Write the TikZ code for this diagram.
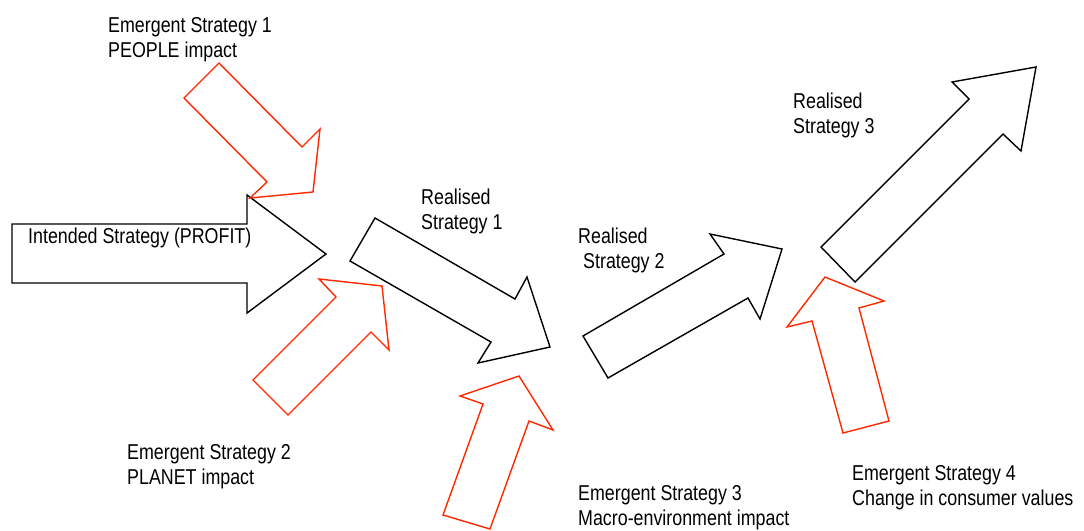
\documentclass[tikz,border=0pt]{standalone}
\usepackage{fontspec}
\setmainfont[FakeStretch=0.83]{Liberation Sans}
\definecolor{emergentred}{RGB}{255,40,0}

\begin{document}
\begin{tikzpicture}[x=1pt,y=-1pt,
    intended/.style ={draw=black, line width=1.4pt, line join=miter},
    emergent/.style ={draw=emergentred, line width=1.4pt, line join=miter},
    label/.style ={anchor=base west, inner sep=0pt, align=left,
      font=\fontsize{21.5}{25}\selectfont}]
   \useasboundingbox (0,0) rectangle (1084,530);
   % black arrows
   \draw[intended] (12,224) -- (247,224) -- (247,195) -- (326,254)
      -- (247,313) -- (247,283) -- (12,283) -- cycle;
   \draw[intended] (375,218) -- (515,299) -- (527,277) -- (550,347)
      -- (478,363) -- (491,342) -- (350,261) -- cycle;
   \draw[intended] (710,234) -- (782,249) -- (760,319) -- (748,298)
      -- (608,378) -- (583,336) -- (724,254) -- cycle;
   \draw[intended] (1036,67) -- (1021,151) -- (1003,134) -- (855,282)
      -- (821,247) -- (969,99) -- (952,82) -- cycle;
   % red arrows
   \draw[emergent] (219,63) -- (302,147) -- (320,129) -- (313,192)
      -- (250,198) -- (267,182) -- (184,98) -- cycle;
   \draw[emergent] (319,279) -- (382,286) -- (389,350) -- (371,332)
      -- (288,415) -- (253,380) -- (336,297) -- cycle;
   \draw[emergent] (519,376) -- (553,430) -- (529,421) -- (490,529)
      -- (443,515) -- (483,404) -- (460,396) -- cycle;
   \draw[emergent] (825,277) -- (884,301) -- (859,308) -- (889,421)
      -- (843,433) -- (812,321) -- (787,327) -- cycle;
   % labels (base = last line)
   \node[label] (es1) at (108,57) {Emergent Strategy 1\\PEOPLE impact};
   \node[label] (is) at (28,243) {Intended Strategy (PROFIT)};
   \node[label] (rs1) at (421,229) {Realised\\Strategy 1};
   \node[label] (rs2) at (578,268) {Realised\\\hspace{5pt}Strategy 2};
   \node[label] (rs3) at (793,133) {Realised\\Strategy 3};
   \node[label] (es2) at (127,484) {Emergent Strategy 2\\PLANET impact};
   \node[label] (es3) at (578,525) {Emergent Strategy 3\\Macro-environment impact};
   \node[label] (es4) at (852,505) {Emergent Strategy 4\\Change in consumer values};
 \end{tikzpicture}
\end{document}
